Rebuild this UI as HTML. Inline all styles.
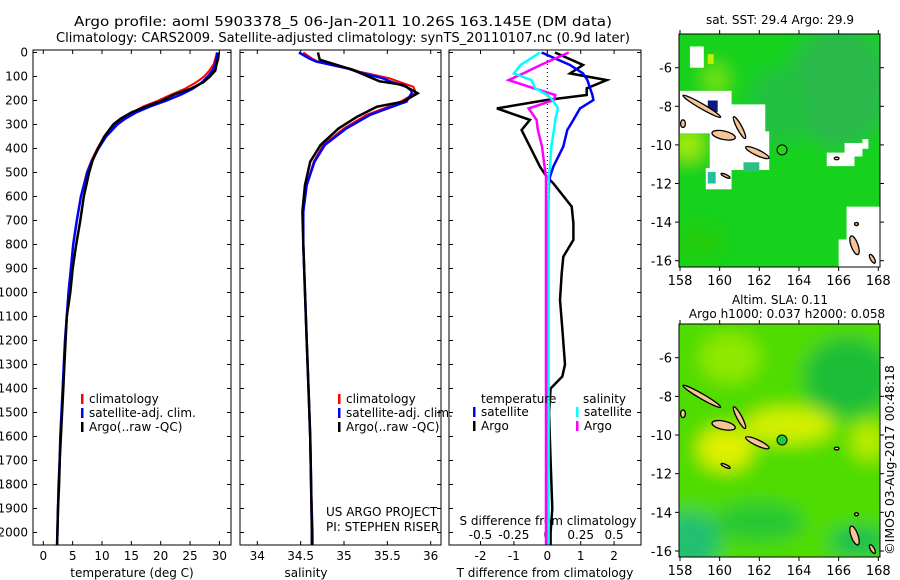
<!DOCTYPE html>
<html><head><meta charset="utf-8"><style>
body{margin:0;background:#fff;}
svg{display:block;font-family:"DejaVu Sans","Liberation Sans",sans-serif;}
text{font-size:12px;fill:#000;}
</style></head><body>
<svg id="c" width="900" height="580" viewBox="0 0 900 580">
<defs>
<filter id="bl" x="-20%" y="-20%" width="140%" height="140%"><feGaussianBlur stdDeviation="9"/></filter>
<clipPath id="m1c"><rect x="679" y="34" width="201" height="233"/></clipPath>
<clipPath id="m2c"><rect x="679" y="324" width="201" height="233"/></clipPath>
</defs>
<text x="343" y="26" text-anchor="middle" textLength="538" lengthAdjust="spacingAndGlyphs" style="font-size:13.5px">Argo profile: aoml 5903378_5 06-Jan-2011 10.26S 163.145E (DM data)</text>
<text x="343" y="42" text-anchor="middle" textLength="574" lengthAdjust="spacingAndGlyphs" style="font-size:13.5px">Climatology: CARS2009. Satellite-adjusted climatology: synTS_20110107.nc (0.9d later)</text>
<g id="g"></g>
</svg>
<script>
// ---- data ----
const depthT=[0,25,50,75,100,125,150,175,200,225,250,275,300,350,400,450,500,600,700,800,900,1000,1100,1200,1300,1400,1500,1600,1700,1800,1900,2000,2050];
const tempArgo=[29.9,29.8,29.5,29.3,28.4,27.2,25.2,22.3,20.3,17.5,15.0,13.2,11.9,10.4,9.3,8.4,7.8,6.9,6.3,5.6,5.0,4.6,4.0,3.8,3.6,3.4,3.2,3.0,2.8,2.7,2.5,2.4,2.35];
const tempClim=[29.6,29.3,29.0,28.3,27.4,26.0,24.2,21.8,19.6,17.0,15.2,13.6,12.3,10.4,9.2,8.2,7.4,6.4,5.7,5.1,4.7,4.3,4.0,3.7,3.5,3.3,3.1,2.9,2.8,2.6,2.5,2.4,2.35];
const tempSat=[29.6,29.5,29.3,28.8,28.0,27.0,25.5,23.5,21.0,18.2,15.8,14.0,12.6,10.7,9.4,8.3,7.5,6.4,5.7,5.1,4.7,4.3,4.0,3.7,3.5,3.3,3.1,2.9,2.8,2.6,2.5,2.4,2.35];
const depthS=[0,30,72,120,135,170,205,226,268,316,385,455,552,663,800,1000,1200,1400,1600,1800,2000,2050];
const salArgo=[34.70,34.72,35.10,35.41,35.68,35.85,35.68,35.38,35.15,34.94,34.73,34.61,34.55,34.52,34.53,34.55,34.57,34.59,34.61,34.62,34.63,34.63];
const depthS2=[0,25,38,67,80,108,120,143,160,170,205,212,260,316,385,455,552,663,800,1000,1200,1400,1600,1800,2000,2050];
const salClim=[34.53,34.63,34.70,35.07,35.18,35.53,35.62,35.80,35.82,35.82,35.65,35.61,35.26,35.00,34.76,34.65,34.57,34.53,34.53,34.55,34.57,34.59,34.61,34.62,34.64,34.64];
const salSat=[34.48,34.60,34.68,35.05,35.15,35.45,35.53,35.72,35.78,35.78,35.72,35.66,35.30,35.03,34.78,34.66,34.57,34.53,34.53,34.55,34.57,34.59,34.61,34.62,34.63,34.63];
const depthD=[0,52,87,115,149,177,198,233,281,323,392,476,517,545,642,712,781,851,920,1031,1150,1300,1350,1400,1500,1700,1900,2000,2050];
const dTArgo=[0.23,1.07,0.68,1.78,1.18,1.18,-0.02,-1.51,-0.52,-0.77,-0.52,-0.22,-0.02,0.18,0.73,0.78,0.78,0.48,0.43,0.38,0.45,0.53,0.45,0.1,0.05,0.1,0.15,0.1,0.1];
const dTSat=[-0.17,0.68,1.07,1.2,1.28,1.35,1.38,0.98,0.78,0.6,0.48,0.18,0.08,0.05,0.03,0.02,0.02,0.02,0.02,0.02,0.02,0.02,0.02,0.02,0.02,0.02,0.02,0.02,0.02];
const dSSat=[-0.055,-0.2,-0.25,-0.12,-0.09,0.0,0.04,0.08,0.06,0.05,0.03,0.02,0.01,0.01,0.01,0.01,0.01,0.01,0.01,0.01,0.01,0.01,0.01,0.01,0.01,0.01,0.01,0.01,0.01];
const dSArgo=[0.16,-0.05,-0.18,-0.29,-0.1,0.06,0.05,-0.14,-0.08,-0.07,-0.04,-0.02,-0.01,-0.01,-0.01,-0.01,-0.01,-0.01,-0.01,-0.01,-0.01,-0.01,-0.01,-0.01,-0.01,-0.01,-0.01,-0.01,-0.01];
const depthTicks=[0,100,200,300,400,500,600,700,800,900,1000,1100,1200,1300,1400,1500,1600,1700,1800,1900,2000];
const tTicks=[0,5,10,15,20,25,30];
const sTicks=[34,34.5,35,35.5,36];
const dTTicks=[-2,-1,0,1,2];
const dSTicks=[-0.5,-0.25,0,0.25,0.5];
const lonTicks=[158,160,162,164,166,168];
const latTicks=[-6,-8,-10,-12,-14,-16];
const floatLon=163.145, floatLat=-10.26;

// ---- helpers ----
const NS='http://www.w3.org/2000/svg';
const G=document.getElementById('g');
function mk(t,a,p){const e=document.createElementNS(NS,t);for(const k in a)e.setAttribute(k,a[k]);(p||G).appendChild(e);return e;}
const yD=d=>52.5+0.24*d;
const xT=v=>43.3+5.87*v;
const xS=v=>257.3+86.7*(v-34);
const xDT=v=>547.3+33.4*v;
const xDS=v=>547.3+133.6*v;
function frame(x0,x1,name){
  const r=mk('rect',{x:x0,y:50,width:x1-x0,height:495,fill:'none',stroke:'#000','stroke-width':1});
  
  
  depthTicks.forEach(d=>{mk('line',{x1:x0,x2:x0+4,y1:yD(d),y2:yD(d),stroke:'#000'});mk('line',{x1:x1,x2:x1-4,y1:yD(d),y2:yD(d),stroke:'#000'});});
}
function xticks(ticks,f,y0,lab,name){
  ticks.forEach(v=>{const x=f(v);mk('line',{x1:x,x2:x,y1:545,y2:541,stroke:'#000'});mk('line',{x1:x,x2:x,y1:50,y2:54,stroke:'#000'});
    if(lab){const t=mk('text',{x:x,y:y0,'text-anchor':'middle'});t.textContent=v;
    
    }});
}
function line(xs,ds,f,col,w,name){
  const pts=xs.map((v,i)=>f(v).toFixed(1)+','+yD(ds[i]).toFixed(1)).join(' ');
  const p=mk('polyline',{points:pts,fill:'none',stroke:col,'stroke-width':w,'stroke-linejoin':'miter'});
  
  
}
function txt(x,y,s,name,anchor,extra){const t=mk('text',Object.assign({x:x,y:y,'text-anchor':anchor||'start'},extra||{}));t.textContent=s;
  
  return t;}

// depth labels
depthTicks.forEach(d=>{const t=mk('text',{x:28,y:yD(d)+4,'text-anchor':'end'});t.textContent=d;
  
  });

// panel 1
frame(33,231,'temperature-panel');
xticks(tTicks,xT,560,true,'temperature-tick-label');
txt(132,577,'temperature (deg C)','temperature-axis-title','middle');
line(tempClim,depthT,xT,'#f00',2,'temperature-climatology-line');
line(tempSat,depthT,xT,'#00f',2.5,'temperature-satellite-line');
line(tempArgo,depthT,xT,'#000',2.5,'temperature-argo-line');
function legend(x,y,col,label,name){mk('rect',{x:x,y:y-9,width:2.5,height:10,fill:col});txt(x+8,y,label,name);}
legend(81,403,'#f00','climatology','legend-climatology');
legend(81,417,'#00f','satellite-adj. clim.','legend-satellite');
legend(81,431,'#000','Argo(..raw -QC)','legend-argo');

// panel 2
frame(240,441,'salinity-panel');
xticks(sTicks,xS,560,true,'salinity-tick-label');
txt(306,577,'salinity','salinity-axis-title','middle');
line(salClim,depthS2,xS,'#f00',2,'salinity-climatology-line');
line(salSat,depthS2,xS,'#00f',2.5,'salinity-satellite-line');
line(salArgo,depthS,xS,'#000',2.5,'salinity-argo-line');
legend(338,403,'#f00','climatology','legend-climatology-2');
legend(338,417,'#00f','satellite-adj. clim.','legend-satellite-2');
legend(338,431,'#000','Argo(..raw -QC)','legend-argo-2');
txt(326,516,'US ARGO PROJECT','project-credit');
txt(326,531,'PI: STEPHEN RISER','pi-credit');

// panel 3
frame(449,641,'difference-panel');
xticks(dTTicks,xDT,560,true,'t-diff-tick-label');
dSTicks.forEach(v=>{txt(xDS(v),539,v,'s-diff-tick-label','middle');});
txt(548,525,'S difference from climatology','s-diff-axis-title','middle');
txt(545,577,'T difference from climatology','t-diff-axis-title','middle');
mk('line',{x1:547.3,x2:547.3,y1:52,y2:545,stroke:'#000','stroke-dasharray':'1,3'});
line(dTArgo,depthD,xDT,'#000',2.5,'t-diff-argo-line');
line(dTSat,depthD,xDT,'#00f',2.5,'t-diff-satellite-line');
line(dSArgo,depthD,xDS,'#f0f',2.5,'s-diff-argo-line');
line(dSSat,depthD,xDS,'#0ff',2.5,'s-diff-satellite-line');
txt(481,403,'temperature','legend-temperature-header');
txt(583,403,'salinity','legend-salinity-header');
legend(473,416,'#00f','satellite','legend-t-satellite');
legend(473,430,'#000','Argo','legend-t-argo');
legend(576,416,'#0ff','satellite','legend-s-satellite');
legend(576,430,'#f0f','Argo','legend-s-argo');

// ---- maps ----
function map(top,bottom,y6,y16,clip,kind,name){
  const xL=lon=>680+19.83*(lon-158);
  const yL=lat=>y6+(y16-y6)/10*(-6-lat);
  const g=mk('g',{'clip-path':'url(#'+clip+')'});
  
  
  const blur=mk('g',{filter:'url(#bl)'},g);
  if(kind===1){
    mk('rect',{x:660,y:top-20,width:240,height:280,fill:'#14d21e'},blur);
    mk('ellipse',{cx:xL(166),cy:yL(-7),rx:50,ry:60,fill:'#2cb84c'},blur);
    mk('ellipse',{cx:xL(163),cy:yL(-8),rx:30,ry:40,fill:'#22c040'},blur);
    mk('ellipse',{cx:xL(158.4),cy:yL(-10),rx:14,ry:14,fill:'#b0f000'},blur);
    mk('ellipse',{cx:xL(159.8),cy:yL(-6.6),rx:10,ry:14,fill:'#80e810'},blur);
    mk('ellipse',{cx:xL(159),cy:yL(-15),rx:25,ry:20,fill:'#20cc10'},blur);
    const w=[[158,-7.2,160.6,-9.4],[160.6,-7.9,162.3,-10],[159.5,-9.3,162.5,-11.3],[159.3,-11.2,160.6,-12.3],[158.5,-4.9,159.2,-6],[165.4,-10.4,166.8,-11.1],[166.3,-9.9,167.2,-10.6],[167.2,-9.7,167.5,-10.2],[166.4,-13.2,168.3,-16.4],[166,-14.9,166.5,-16.4]];
    w.forEach(r=>mk('rect',{x:xL(r[0]),y:yL(r[1]),width:xL(r[2])-xL(r[0]),height:yL(r[3])-yL(r[1]),fill:'#fff'},g));
    mk('rect',{x:xL(161.2),y:yL(-10.9),width:xL(162)-xL(161.2),height:yL(-11.4)-yL(-10.9),fill:'#2cc080'},g);
    mk('rect',{x:xL(159.4),y:yL(-11.4),width:xL(159.8)-xL(159.4),height:yL(-12)-yL(-11.4),fill:'#20c0a0'},g);
    mk('rect',{x:xL(159.4),y:yL(-7.7),width:xL(159.9)-xL(159.4),height:yL(-8.3)-yL(-7.7),fill:'#0a1a80'},g);
    mk('rect',{x:xL(159.4),y:yL(-5.3),width:xL(159.7)-xL(159.4),height:yL(-5.8)-yL(-5.3),fill:'#c0f000'},g);
  } else {
    mk('rect',{x:660,y:top-20,width:240,height:280,fill:'#50dc00'},blur);
    mk('ellipse',{cx:xL(166.5),cy:yL(-7),rx:45,ry:40,fill:'#1cbe38'},blur);
    mk('ellipse',{cx:xL(163.5),cy:yL(-9.5),rx:45,ry:18,fill:'#d4f000'},blur);
    mk('ellipse',{cx:xL(160.3),cy:yL(-10.7),rx:28,ry:22,fill:'#e0f000'},blur);
    mk('ellipse',{cx:xL(167.5),cy:yL(-10.3),rx:18,ry:20,fill:'#b8ec00'},blur);
    mk('ellipse',{cx:xL(160.5),cy:yL(-6),rx:30,ry:25,fill:'#90e800'},blur);
    mk('ellipse',{cx:xL(158.5),cy:yL(-15.5),rx:30,ry:30,fill:'#22c070'},blur);
    mk('ellipse',{cx:xL(162),cy:yL(-14.5),rx:45,ry:20,fill:'#28c830'},blur);
    mk('ellipse',{cx:xL(167),cy:yL(-15.5),rx:30,ry:15,fill:'#18c050'},blur);
  }
  // islands: lon, lat, half-length deg, half-width deg, rotation
  const isl=[[159.1,-8.0,1.1,0.13,30],[158.15,-8.9,0.12,0.2,0],[160.2,-9.5,0.6,0.22,12],[161.0,-9.1,0.62,0.13,62],[161.9,-10.4,0.65,0.15,25],[160.3,-11.6,0.25,0.07,25],[166.8,-15.2,0.5,0.18,70],[167.7,-15.9,0.25,0.1,60],[166.9,-14.1,0.1,0.08,0],[165.9,-10.7,0.12,0.07,0]];
  isl.forEach(s=>{const cx=xL(s[0]),cy=yL(s[1]);mk('ellipse',{cx:cx,cy:cy,rx:s[2]*19.8,ry:s[3]*19.3,fill:'#f5c497',stroke:'#000','stroke-width':1.3,transform:'rotate('+s[4]+' '+cx+' '+cy+')'},g);});
  const c=mk('circle',{cx:xL(floatLon),cy:yL(floatLat),r:5,fill:kind===1?'#2ed21e':'#22c840',stroke:'#000','stroke-width':1});
  
  
  mk('rect',{x:679,y:top,width:201,height:bottom-top,fill:'none',stroke:'#000'});
  lonTicks.forEach(l=>{const x=xL(l);mk('line',{x1:x,x2:x,y1:top,y2:top-4,stroke:'#000'});mk('line',{x1:x,x2:x,y1:bottom,y2:bottom+4,stroke:'#000'});
    txt(x,bottom+18,l,'longitude-tick-label','middle',{style:'font-size:13px'});});
  latTicks.forEach(l=>{const y=yL(l);mk('line',{x1:679,x2:675,y1:y,y2:y,stroke:'#000'});mk('line',{x1:880,x2:884,y1:y,y2:y,stroke:'#000'});
    txt(672,y+5,l,'latitude-tick-label','end',{style:'font-size:13px'});});
}
map(34,267,67.7,260.7,'m1c',1,'sst-map');
map(324,557,357.7,551,'m2c',2,'sla-map');
txt(780,24,'sat. SST: 29.4  Argo: 29.9','sst-map-title','middle');
txt(780,304,'Altim. SLA: 0.11','sla-map-title','middle');
txt(787,318,'Argo h1000: 0.037 h2000: 0.058','sla-map-subtitle','middle');
txt(0,0,'©IMOS 03-Aug-2017 00:48:18','imos-timestamp','middle',{transform:'translate(894,460) rotate(-90)',style:'font-size:12.5px'});
</script>
</body></html>
